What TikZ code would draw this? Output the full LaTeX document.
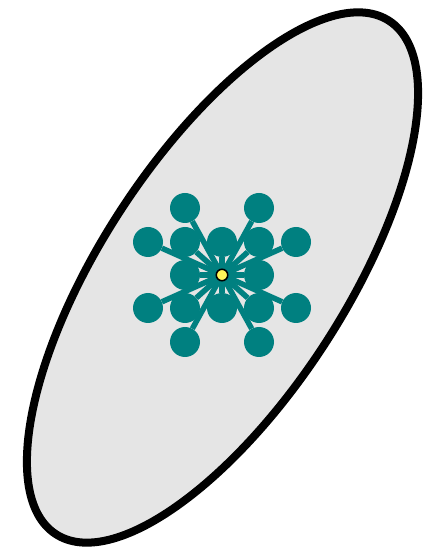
\documentclass[tikz,border=0pt]{standalone}
\usepackage{tikz}
\usetikzlibrary{positioning}

\begin{document}
\begin{tikzpicture}[x=1pt, y=1pt,
      atom/.style={circle, fill=teal, inner sep=0pt, minimum size=30pt},
      core/.style={circle, draw=black, line width=1.5pt, fill=yellow!65,
                   inner sep=0pt, minimum size=11.5pt},
      bond/.style={teal, line width=5.5pt, shorten <=6pt},
      shell/.style={draw=black, line width=8pt, fill=black!10}]
    \useasboundingbox (0,0) rectangle (427,547);
    % enclosing envelope
    \draw[shell, rotate around={57:(222.5,269.5)}]
      (222.5,269.5) ellipse [x radius=306, y radius=122];
    \coordinate (c) at (222,272);
    % inner ring
    \node[atom] (n)  at (222,305) {};
    \node[atom] (s)  at (222,239) {};
    \node[atom] (w)  at (185,272) {};
    \node[atom] (e)  at (259,272) {};
    \node[atom] (nw) at (185,305) {};
    \node[atom] (ne) at (259,305) {};
    \node[atom] (sw) at (185,239) {};
    \node[atom] (se) at (259,239) {};
    % outer ring
    \node[atom] (nnw) at (185,339) {};
    \node[atom] (nne) at (259,339) {};
    \node[atom] (wnw) at (148,305) {};
    \node[atom] (ene) at (296,305) {};
    \node[atom] (wsw) at (148,239) {};
    \node[atom] (ese) at (296,239) {};
    \node[atom] (ssw) at (185,205) {};
    \node[atom] (sse) at (259,205) {};
    \foreach \a in {n,s,w,e,nw,ne,sw,se,nnw,nne,wnw,ene,wsw,ese,ssw,sse}
      \draw[bond] (c) -- (\a);
    \node[core] (hub) at (c) {};
\end{tikzpicture}
\end{document}
